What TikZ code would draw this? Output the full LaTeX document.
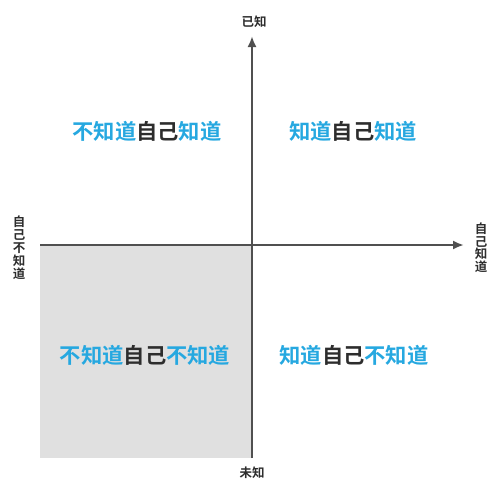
\documentclass[tikz,border=0pt]{standalone}
\usepackage{fontspec}
\newfontfamily\cjk{Noto Sans CJK SC Bold}
\usetikzlibrary{arrows.meta}
\definecolor{qblue}{RGB}{38,168,224}
\definecolor{qdark}{RGB}{45,45,45}
\definecolor{axisgray}{RGB}{80,80,80}
\definecolor{fillgray}{RGB}{224,224,224}
\tikzset{
  quad/.style={font=\cjk\fontsize{21.3}{23}\selectfont, text=qdark, inner sep=0pt},
  axlab/.style={font=\cjk\fontsize{12.5}{13}\selectfont, text=qdark, inner sep=0pt, align=center},
  axis/.style={draw=axisgray, line width=2.4pt, -{Latex[length=11pt,width=9pt]}},
}
\begin{document}
\begin{tikzpicture}[x=1pt,y=-1pt]
\useasboundingbox (0,0) rectangle (500,496);
\fill[fillgray] (40,245) rectangle (252,458);
\coordinate (hl) at (40,245);
\coordinate (hr) at (464,245);
\coordinate (vb) at (252,458);
\coordinate (vt) at (252,36);
\draw[axis] (hl) -- (hr);
\draw[axis] (vb) -- (vt);
\node[axlab] (top) at (254,22) {已知};
\node[axlab] (bot) at (252,473) {未知};
\node[axlab, font=\cjk\fontsize{12.5}{13}\selectfont] (left) at (19,248) {自\\己\\不\\知\\道};
\node[axlab, font=\cjk\fontsize{12.5}{12.5}\selectfont] (right) at (481,248) {自\\己\\知\\道};
\node[quad] (q1) at (147,131) {\textcolor{qblue}{不知道}自己\textcolor{qblue}{知道}};
\node[quad] (q2) at (353,131) {\textcolor{qblue}{知道}自己\textcolor{qblue}{知道}};
\node[quad] (q3) at (145,355) {\textcolor{qblue}{不知道}自己\textcolor{qblue}{不知道}};
\node[quad] (q4) at (354,355) {\textcolor{qblue}{知道}自己\textcolor{qblue}{不知道}};
\end{tikzpicture}
\end{document}
